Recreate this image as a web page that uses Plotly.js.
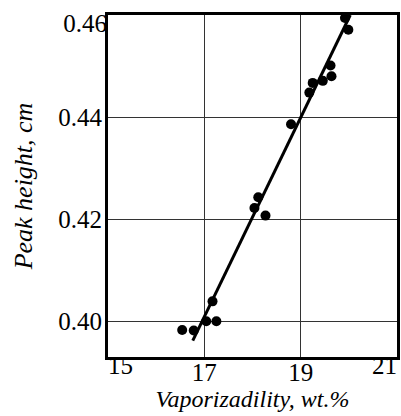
<!DOCTYPE html>
<html>
<head>
<meta charset="utf-8">
<script src="https://cdn.plot.ly/plotly-3.0.1.min.js"></script>
<style>
html,body{margin:0;padding:0;background:#fff;}
#chart{width:401px;height:416px;}
</style>
</head>
<body>
<div id="chart"></div>
<script>
// Measured points
const vaporizability = [19.92, 19.99, 19.62, 19.64, 19.25, 19.46, 19.18, 18.80, 18.12, 18.04, 18.27, 17.17, 17.04, 17.25, 16.54, 16.78];
const peakHeight     = [0.4594, 0.4571, 0.4501, 0.4480, 0.4467, 0.4471, 0.4448, 0.4386, 0.4243, 0.4222, 0.4207, 0.4039, 0.4000, 0.4000, 0.3983, 0.3982];
// Fitted line end points
const fitX = [16.76, 20.03];
const fitY = [0.3962, 0.4600];
// Ticks
const xTicks = [15, 17, 19, 21];
const xTickText = ['15', '17', '19', '21'];
const yTicks = [0.40, 0.42, 0.44, 0.46];
const yTickText = ['0.40', '0.42', '0.44', '0.46'];

const xRange = [15, 21];
const yRange = [0.393, 0.46];
const font = "'Liberation Serif', 'Times New Roman', serif";
const tickFont = {family: font, size: 25, color: '#000'};
const xStand = -9, yStand = -2;

const traces = [
  {
    x: fitX, y: fitY, mode: 'lines', type: 'scatter',
    line: {color: '#000', width: 3}, hoverinfo: 'skip', cliponaxis: false
  },
  {
    x: vaporizability, y: peakHeight, mode: 'markers', type: 'scatter',
    marker: {color: '#000', size: 10}, cliponaxis: false
  },
  // empty traces so the label-only helper axes get drawn
  {x: [], y: [], xaxis: 'x2', yaxis: 'y', type: 'scatter', mode: 'markers', hoverinfo: 'skip'},
  {x: [], y: [], xaxis: 'x3', yaxis: 'y', type: 'scatter', mode: 'markers', hoverinfo: 'skip'},
  {x: [], y: [], xaxis: 'x', yaxis: 'y2', type: 'scatter', mode: 'markers', hoverinfo: 'skip'}
];

// label-only helper axes so the edge labels sit inward like the original
function labelAxis(base, vals, texts, pos, side, stand, shift) {
  return Object.assign({
    overlaying: base, range: base === 'x' ? xRange : yRange, side: side,
    tickvals: vals, ticktext: texts, ticklabelposition: pos,
    showgrid: false, showline: false, zeroline: false, ticks: '',
    ticklabeloverflow: 'allow', tickfont: tickFont,
    ticklabelstandoff: stand, ticklabelshift: shift
  }, base === 'x' ? {anchor: 'y'} : {anchor: 'x'});
}

const layout = {
  width: 401, height: 416,
  margin: {l: 108, r: 4, t: 15, b: 59},
  paper_bgcolor: '#fff', plot_bgcolor: '#fff',
  showlegend: false,
  font: {family: font, size: 25, color: '#000'},
  xaxis: {
    range: xRange, tickvals: xTicks, ticktext: ['', xTickText[1], xTickText[2], ''],
    showgrid: true, gridcolor: '#333', gridwidth: 1,
    showline: true, linecolor: '#000', linewidth: 3, mirror: true,
    ticks: '', zeroline: false, ticklabeloverflow: 'allow', ticklabelstandoff: xStand,
    tickfont: tickFont,
    title: {text: '<i>Vaporizadility, wt.%</i>', font: {family: font, size: 24, color: '#000'}, standoff: 6}
  },
  xaxis2: labelAxis('x', [xTicks[0]], [xTickText[0]], 'outside right', 'bottom', xStand, 0),
  xaxis3: labelAxis('x', [xTicks[3]], [xTickText[3]], 'outside left', 'bottom', xStand, 0),
  yaxis: {
    range: yRange, tickvals: yTicks, ticktext: [yTickText[0], yTickText[1], yTickText[2], ''],
    showgrid: true, gridcolor: '#333', gridwidth: 1,
    showline: true, linecolor: '#000', linewidth: 3, mirror: true,
    ticks: '', zeroline: false, ticklabeloverflow: 'allow', ticklabelstandoff: yStand,
    tickfont: tickFont,
    title: {text: '<i>Peak height, cm</i>', font: {family: font, size: 26, color: '#000'}, standoff: 19}
  },
  yaxis2: labelAxis('y', [yTicks[3]], [yTickText[3]], 'outside bottom', 'left', 0, -9)
};

Plotly.newPlot('chart', traces, layout, {staticPlot: true, displayModeBar: false});
</script>
</body>
</html>
